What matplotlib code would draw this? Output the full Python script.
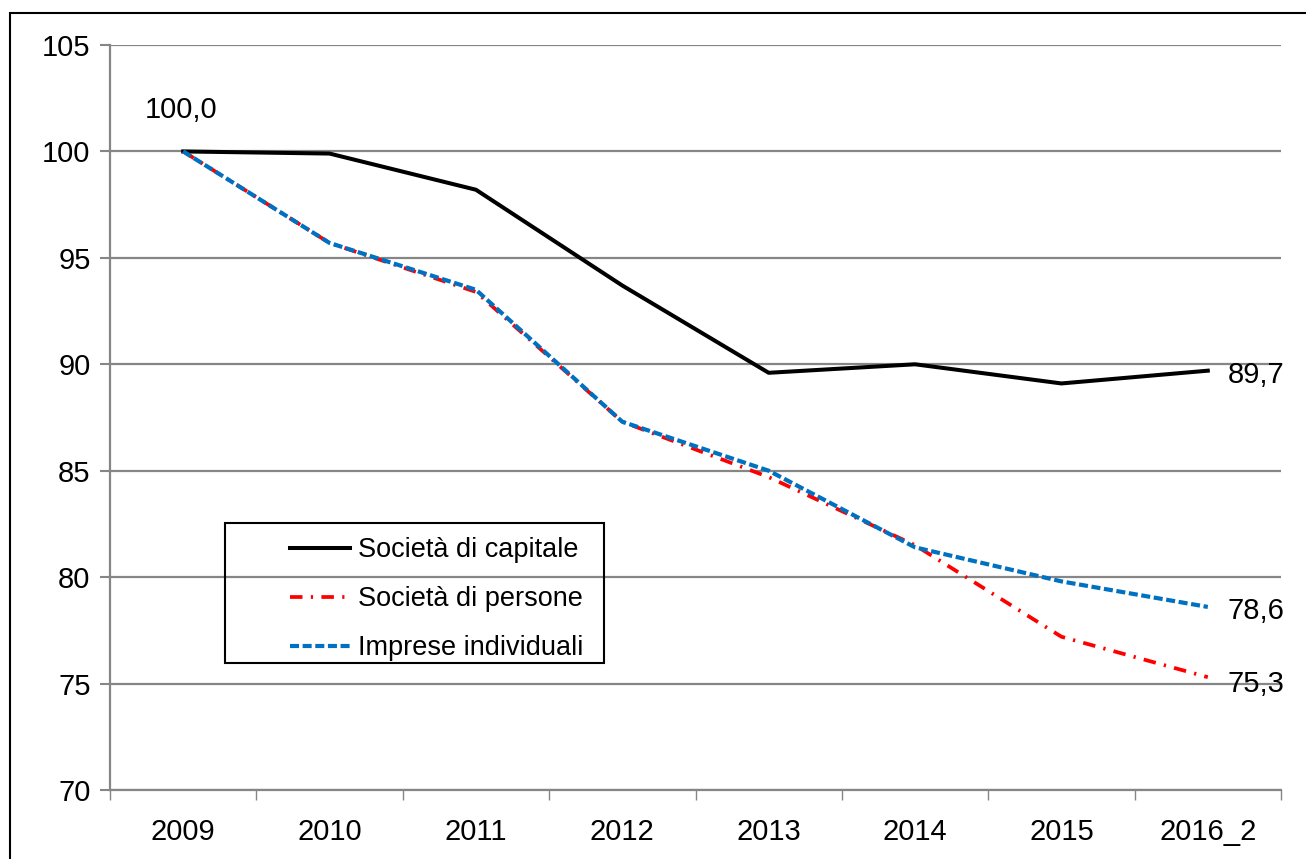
import matplotlib.pyplot as plt
from matplotlib.patches import Rectangle

plt.rcParams['font.family'] = ['Liberation Sans Narrow', 'Liberation Sans', 'DejaVu Sans']
plt.rcParams['lines.scale_dashes'] = False

# Dati
anni = ["2009", "2010", "2011", "2012", "2013", "2014", "2015", "2016_2"]
capitale = [100.0, 99.9, 98.2, 93.7, 89.6, 90.0, 89.1, 89.7]
persone = [100.0, 95.7, 93.4, 87.3, 84.7, 81.5, 77.2, 75.3]
individuali = [100.0, 95.7, 93.5, 87.3, 85.0, 81.4, 79.8, 78.6]

W, H = 1306, 859
fig = plt.figure(figsize=(W/100, H/100), dpi=100)
ax = fig.add_axes([110/W, 1-790/H, (1281-110)/W, (790-45)/H])

x = list(range(len(anni)))
grigio = "#868686"
fs = 21

ax.plot(x, capitale, color="black", lw=2.9, label="Società di capitale", zorder=3)
ax.plot(x, persone, color="#ff0000", lw=2.7, dashes=(9, 6, 1.6, 6), label="Società di persone", zorder=3)
ax.plot(x, individuali, color="#0070c0", lw=3.0, dashes=(6.5, 2.6), label="Imprese individuali", zorder=4)

ax.set_xlim(-0.5, len(anni) - 0.5)
ax.set_ylim(70, 105)
ax.set_yticks(range(70, 106, 5))
ax.set_xticks(x)
ax.set_xticklabels(anni)
ax.set_xticks([i - 0.5 for i in range(len(anni) + 1)], minor=True)
ax.tick_params(axis="x", which="major", length=0, pad=20, labelsize=fs)
ax.tick_params(axis="x", which="minor", length=7, width=1, color=grigio, direction="out")
ax.tick_params(axis="y", length=7, width=1.5, color=grigio, pad=7, labelsize=fs)
ax.grid(axis="y", color=grigio, lw=1.6)
ax.set_axisbelow(True)
for s in ["top", "right"]:
    ax.spines[s].set_visible(False)
for s in ["left", "bottom"]:
    ax.spines[s].set_color(grigio)
    ax.spines[s].set_linewidth(1.6)

# Etichette valori
fmt = lambda v: f"{v:.1f}".replace(".", ",")
ax.annotate(fmt(capitale[0]), xy=(0, capitale[0]), xytext=(-2, 41), textcoords="offset pixels",
            ha="center", va="center", fontsize=fs)
for serie, dy in [(capitale, -4), (individuali, -4), (persone, -7)]:
    ax.annotate(fmt(serie[-1]), xy=(7, serie[-1]), xytext=(20, dy), textcoords="offset pixels",
                ha="left", va="center", fontsize=fs)

# Legenda
leg = ax.legend(loc="upper left", bbox_to_anchor=(290/W, 1-537/H), bbox_transform=fig.transFigure,
                frameon=False, fontsize=19.5, handlelength=2.2, handletextpad=0.3,
                labelspacing=0.85, borderpad=0, borderaxespad=0)
fig.patches.append(Rectangle((225/W, 1-663/H), (604-225)/W, (663-523)/H, transform=fig.transFigure,
                             fill=False, edgecolor="black", lw=1.5, zorder=5))

# Cornice esterna
fig.patches.append(Rectangle((10/W, -0.1), 1.2, 1-13/H + 0.1, transform=fig.transFigure,
                             fill=False, edgecolor="black", lw=1.5))

fig.savefig("out.png", dpi=100)
